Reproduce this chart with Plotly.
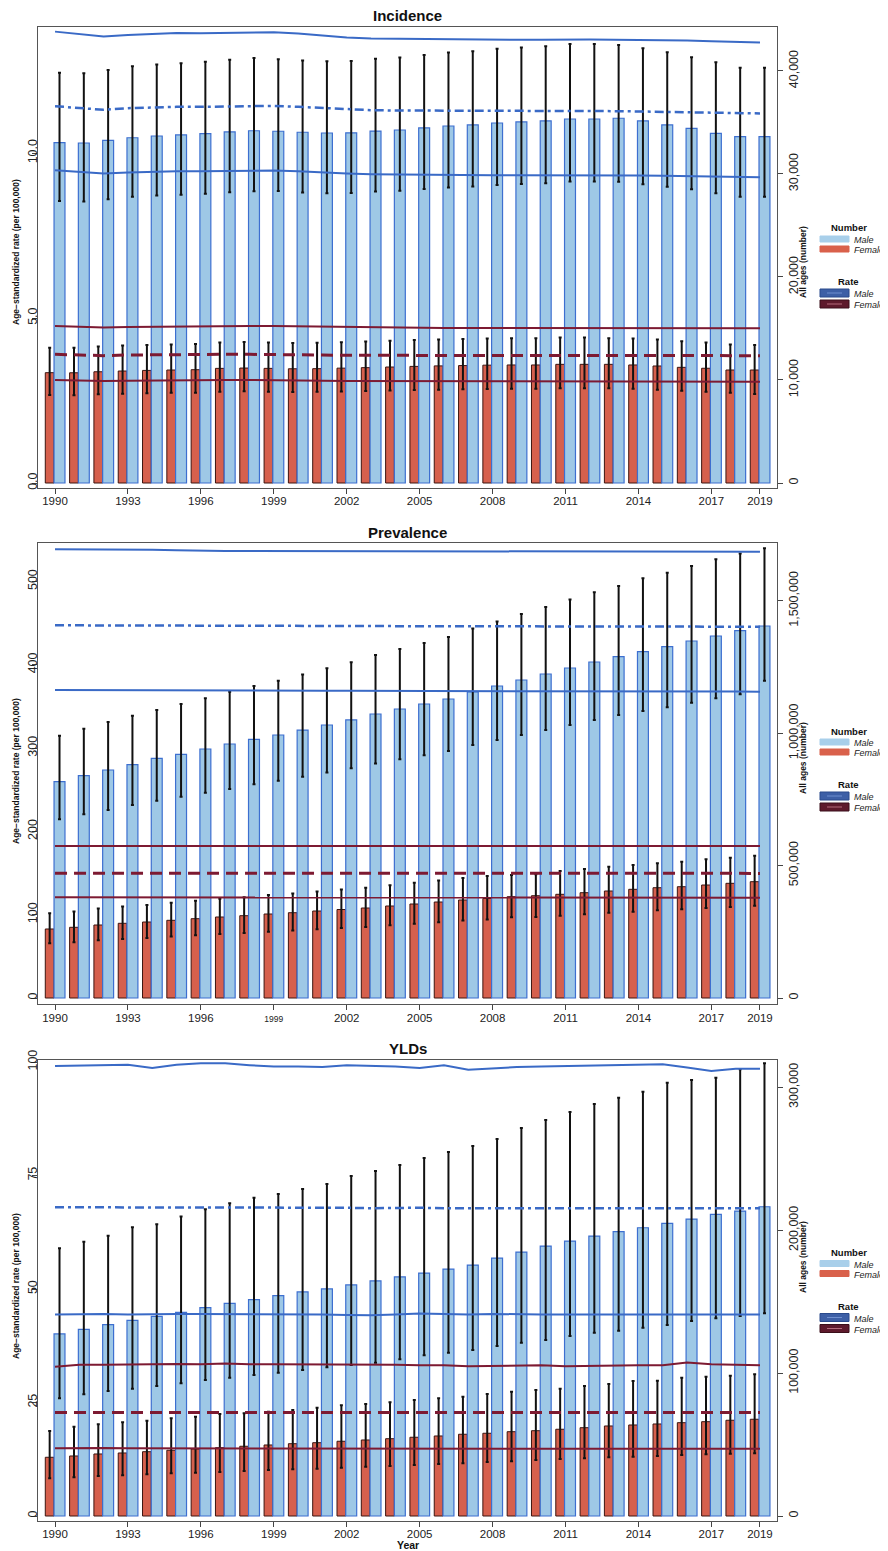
import plotly.graph_objects as go

years = list(range(1990, 2020))

# ---------------- Incidence ----------------
inc_m_num = [33040, 33010, 33270, 33520, 33690, 33790, 33910, 34080, 34200, 34150, 34050, 33980, 34000, 34170, 34270,
             34470, 34660, 34760, 34950, 35050, 35150, 35340, 35340, 35410, 35150, 34760, 34430, 33950, 33620, 33620]
inc_m_hi = [39830, 39780, 40090, 40450, 40620, 40760, 40900, 41090, 41250, 41130, 41010, 40950, 40980, 41190, 41320,
            41560, 41800, 41920, 42150, 42270, 42390, 42620, 42620, 42520, 42200, 41810, 41330, 40840, 40320, 40320]
inc_m_lo = [27380, 27330, 27550, 27780, 27900, 27980, 28080, 28220, 28320, 28350, 28200, 28140, 28160, 28290, 28380,
            28540, 28700, 28780, 28940, 29020, 29100, 29260, 29260, 29250, 29000, 28770, 28510, 28120, 27800, 27800]
inc_f_num = [10710, 10700, 10800, 10870, 10930, 10970, 11000, 11130, 11160, 11130, 11090, 11100, 11150, 11200, 11260,
             11320, 11370, 11400, 11440, 11460, 11460, 11520, 11520, 11520, 11460, 11360, 11230, 11140, 10970, 10970]
inc_f_hi = [13140, 13120, 13250, 13340, 13400, 13450, 13490, 13650, 13690, 13650, 13600, 13610, 13670, 13740, 13810,
            13880, 13940, 13980, 14030, 14050, 14050, 14120, 14120, 14050, 14030, 13920, 13760, 13640, 13440, 13400]
inc_f_lo = [8540, 8530, 8610, 8670, 8710, 8750, 8770, 8870, 8900, 8870, 8840, 8850, 8890, 8930, 8980,
            9020, 9060, 9090, 9120, 9140, 9140, 9190, 9190, 9190, 9140, 9060, 8950, 8870, 8750, 8640]
inc_rm_up = [13.68, 13.60, 13.53, 13.58, 13.62, 13.64, 13.63, 13.64, 13.66, 13.66, 13.62, 13.56, 13.50, 13.47, 13.46,
             13.46, 13.45, 13.44, 13.43, 13.43, 13.43, 13.44, 13.44, 13.43, 13.43, 13.43, 13.41, 13.39, 13.37, 13.35]
inc_rm_mid = [11.42, 11.36, 11.31, 11.36, 11.39, 11.40, 11.40, 11.41, 11.43, 11.43, 11.40, 11.36, 11.33, 11.30, 11.29,
              11.29, 11.28, 11.27, 11.27, 11.27, 11.27, 11.28, 11.28, 11.27, 11.26, 11.25, 11.24, 11.23, 11.21, 11.20]
inc_rm_lo = [9.48, 9.42, 9.38, 9.41, 9.44, 9.45, 9.45, 9.46, 9.47, 9.47, 9.45, 9.41, 9.38, 9.36, 9.35,
             9.34, 9.34, 9.33, 9.33, 9.33, 9.33, 9.34, 9.34, 9.33, 9.32, 9.31, 9.30, 9.29, 9.28, 9.27]
inc_rf_up = [4.76, 4.73, 4.71, 4.73, 4.74, 4.75, 4.75, 4.75, 4.76, 4.76, 4.75, 4.73, 4.72, 4.71, 4.71,
             4.71, 4.70, 4.70, 4.70, 4.70, 4.70, 4.71, 4.71, 4.70, 4.70, 4.70, 4.70, 4.69, 4.69, 4.69]
inc_rf_mid = [3.90, 3.88, 3.86, 3.88, 3.89, 3.89, 3.89, 3.90, 3.90, 3.90, 3.89, 3.88, 3.87, 3.87, 3.87,
              3.87, 3.87, 3.87, 3.87, 3.87, 3.87, 3.87, 3.87, 3.87, 3.87, 3.87, 3.86, 3.86, 3.86, 3.86]
inc_rf_lo = [3.12, 3.10, 3.09, 3.10, 3.11, 3.11, 3.11, 3.12, 3.12, 3.12, 3.11, 3.10, 3.09, 3.09, 3.09,
             3.09, 3.09, 3.08, 3.08, 3.08, 3.08, 3.09, 3.09, 3.08, 3.08, 3.08, 3.08, 3.07, 3.07, 3.07]

# ---------------- Prevalence ----------------
prev_m_num = [816800, 839500, 861000, 881000, 905200, 920300, 940300, 959200, 977000, 993200, 1012000, 1031000, 1050000,
              1072500, 1091400, 1110300, 1129200, 1155600, 1178200, 1200900, 1223600, 1246200, 1268900, 1288900,
              1307800, 1326700, 1348200, 1367100, 1387100, 1404800]
prev_m_hi = [990600, 1017000, 1042300, 1066100, 1087600, 1110300, 1131800, 1156700, 1178200, 1198300, 1222000, 1245000,
             1268000, 1295000, 1318000, 1341000, 1363000, 1395000, 1422000, 1450000, 1477000, 1505000, 1532000, 1555900,
             1585000, 1606000, 1631000, 1657000, 1679000, 1698200]
prev_m_lo = [674800, 693700, 709900, 728800, 745100, 760200, 775300, 789300, 807000, 820600, 836000, 852000, 868000,
             886000, 902000, 917000, 933000, 955000, 974000, 993000, 1012000, 1031000, 1050000, 1068700, 1083800,
             1097800, 1115200, 1131800, 1146900, 1198300]
prev_f_num = [260600, 267000, 275700, 282100, 287000, 293400, 299500, 305900, 310800, 317200, 322100, 328500, 334200,
              339900, 347400, 355000, 362500, 370100, 375800, 382600, 386300, 391600, 397700, 404100, 410500, 416500,
              420300, 426700, 433100, 439200]
prev_f_hi = [319900, 327000, 337700, 345600, 351600, 359400, 366900, 374700, 380700, 388600, 394600, 402400, 409400,
             416400, 425600, 434900, 444100, 453400, 460400, 464500, 467000, 479600, 487200, 495800, 502300, 508700,
             514700, 523800, 529800, 537400]
prev_f_lo = [206600, 211000, 217800, 222900, 226700, 231800, 236600, 241700, 245500, 250600, 254500, 259500, 264000,
             268500, 274400, 280500, 286400, 292400, 296900, 304700, 306000, 310500, 316000, 321500, 326000, 331000,
             335000, 339500, 344000, 348600]
prev_rm_up = [538.6, 538.6, 538.5, 538.4, 538.2, 537.6, 536.9, 536.6, 536.5, 536.5, 536.4, 536.4, 536.3, 536.3, 536.3,
              536.2, 536.2, 536.2, 536.1, 536.1, 536.1, 536.0, 536.0, 536.0, 536.0, 536.0, 535.9, 535.9, 535.8, 535.8]
prev_rm_mid = [447.4, 447.4, 447.3, 447.3, 447.2, 447.1, 446.9, 446.8, 446.7, 446.7, 446.6, 446.6, 446.5, 446.5, 446.4,
               446.4, 446.3, 446.3, 446.2, 446.2, 446.1, 446.1, 446.0, 446.0, 445.9, 445.9, 445.8, 445.8, 445.7, 445.7]
prev_rm_lo = [369.7, 369.7, 369.6, 369.5, 369.4, 369.3, 369.2, 369.1, 369.0, 368.9, 368.9, 368.8, 368.7, 368.7, 368.6,
              368.5, 368.5, 368.4, 368.4, 368.3, 368.3, 368.2, 368.1, 368.1, 368.0, 368.0, 367.9, 367.9, 367.8, 367.7]
prev_rf_up = [182.6, 182.6, 182.6, 182.6, 182.5, 182.5, 182.5, 182.5, 182.5, 182.5, 182.5, 182.5, 182.5, 182.5, 182.5,
              182.5, 182.5, 182.5, 182.5, 182.5, 182.5, 182.4, 182.4, 182.4, 182.4, 182.4, 182.4, 182.4, 182.4, 182.4]
prev_rf_mid = [149.8, 149.8, 149.8, 149.7, 149.7, 149.7, 149.7, 149.7, 149.7, 149.7, 149.7, 149.7, 149.7, 149.7, 149.7,
               149.7, 149.7, 149.7, 149.7, 149.7, 149.6, 149.6, 149.6, 149.6, 149.6, 149.6, 149.6, 149.6, 149.6, 149.6]
prev_rf_lo = [120.9, 120.9, 120.9, 120.8, 120.8, 120.8, 120.8, 120.7, 120.7, 120.7, 120.7, 120.7, 120.6, 120.6, 120.6,
              120.6, 120.6, 120.6, 120.5, 120.5, 120.5, 120.5, 120.5, 120.5, 120.4, 120.4, 120.4, 120.4, 120.4, 120.4]

# ---------------- YLDs ----------------
yld_m_num = [127400, 130600, 133900, 136900, 139700, 142500, 145800, 148800, 151400, 154200, 156800, 158900, 161700,
             164500, 167300, 170000, 172800, 175600, 180500, 184700, 188900, 192400, 195900, 199000, 201700, 204800,
             207800, 211100, 213400, 216400]
yld_m_hi = [187300, 192000, 196100, 202000, 204100, 209500, 214600, 218800, 222700, 225300, 228800, 232300, 237900,
            241400, 245600, 250500, 254700, 258900, 263800, 271500, 277100, 282700, 288300, 292700, 296900, 303200,
            305100, 306700, 312600, 316800]
yld_m_lo = [82400, 85200, 87500, 89100, 91000, 92900, 95200, 96800, 98700, 100300, 102200, 104100, 105700, 107300,
            109700, 112500, 114300, 116200, 119000, 121300, 123200, 126000, 128300, 129700, 131800, 133700, 136500,
            138300, 140000, 141800]
yld_f_num = [41100, 42000, 43400, 44100, 45000, 46000, 46900, 47800, 48800, 49700, 50600, 51300, 52300, 53200, 54100,
             55100, 56000, 57200, 57900, 59000, 59700, 60700, 61800, 63000, 63700, 64400, 65300, 66000, 67000, 67700]
yld_f_hi = [59500, 62500, 64200, 65600, 66700, 68400, 69500, 71400, 71900, 73000, 74200, 75800, 77500, 78400, 79600,
            81200, 82400, 83500, 85400, 87000, 88200, 89100, 91000, 92400, 94500, 94700, 96800, 97500, 98200, 99200]
yld_f_lo = [26400, 27100, 28000, 28500, 29200, 29900, 30300, 30800, 31500, 32200, 32700, 33100, 33800, 34500, 35000,
            35700, 36400, 36900, 37800, 38300, 39200, 39900, 40400, 41100, 41500, 42000, 42700, 43200, 43600, 43900]
yld_rm_up = [99.1, 99.2, 99.3, 99.4, 98.7, 99.4, 99.7, 99.7, 99.3, 99.0, 99.0, 98.9, 99.3, 99.2, 99.0,
             98.7, 99.3, 98.3, 98.6, 98.9, 99.0, 99.1, 99.2, 99.3, 99.3, 99.5, 98.8, 98.0, 98.5, 98.5]
yld_rm_mid = [68.0, 68.0, 68.0, 67.9, 68.0, 67.9, 67.9, 68.0, 67.9, 67.9, 67.9, 67.9, 67.9, 67.8, 67.9,
              67.9, 67.8, 67.8, 67.9, 67.8, 67.8, 67.8, 67.8, 67.8, 67.8, 67.8, 67.8, 67.8, 67.8, 67.8]
yld_rm_lo = [44.4, 44.5, 44.5, 44.4, 44.5, 44.5, 44.5, 44.5, 44.4, 44.5, 44.5, 44.4, 44.3, 44.2, 44.4,
             44.6, 44.5, 44.4, 44.5, 44.4, 44.4, 44.4, 44.4, 44.4, 44.4, 44.4, 44.5, 44.4, 44.4, 44.4]
yld_rf_up = [32.9, 33.3, 33.3, 33.3, 33.4, 33.5, 33.4, 33.6, 33.4, 33.4, 33.4, 33.4, 33.4, 33.3, 33.3,
             33.2, 33.2, 33.0, 33.1, 33.2, 33.2, 33.0, 33.1, 33.2, 33.2, 33.2, 33.8, 33.4, 33.3, 33.2]
yld_rf_mid = [22.8, 22.8, 22.8, 22.8, 22.8, 22.8, 22.8, 22.8, 22.8, 22.8, 22.8, 22.8, 22.8, 22.8, 22.8,
              22.8, 22.8, 22.8, 22.8, 22.8, 22.8, 22.8, 22.8, 22.8, 22.8, 22.8, 22.8, 22.8, 22.8, 22.8]
yld_rf_lo = [14.9, 15.0, 15.0, 14.9, 14.9, 14.9, 14.9, 14.9, 14.9, 14.9, 14.9, 14.9, 14.9, 14.9, 14.9,
             14.9, 14.9, 14.9, 14.9, 14.9, 14.9, 14.8, 14.8, 14.8, 14.8, 14.8, 14.8, 14.8, 14.8, 14.8]

x_tickvals = [1990, 1993, 1996, 1999, 2002, 2005, 2008, 2011, 2014, 2017, 2019]

# ---------------- geometry / style ----------------
W, H = 888, 1551
OX, OY = 8, 8            # page offset of the plot div (body margin)
PL, PR = 38, 777         # plot area left/right in screen px
ML = PL - OX
MR = W - (PR - OX)
PW = W - ML - MR
FONT = "Liberation Sans"


def fx(px):
    return (px - OX - ML) / PW


def fy(py):
    return 1 - (py - OY) / H


M_FILL, M_EDGE = "#9ec8e6", "#3d6fd0"
F_FILL, F_EDGE = "#d6604d", "#3d1510"
M_LINE, F_LINE = "#3a6ac6", "#7d1a32"

panels = [
    dict(title="Incidence", ttl_y=15, top=27, bot=487.5,
         m=(inc_m_num, inc_m_lo, inc_m_hi), f=(inc_f_num, inc_f_lo, inc_f_hi),
         rm=(inc_rm_up, inc_rm_mid, inc_rm_lo), rf=(inc_rf_up, inc_rf_mid, inc_rf_lo),
         lrange=[-0.136, 13.82], ltv=[0, 5, 10], ltt=["0.0", "5.0", "10.0"],
         rrange=[-437, 44270], rtv=[0, 10000, 20000, 30000, 40000],
         lt_y=252, rt_y=262, leg_y=228, ytxt=None),
    dict(title="Prevalence", ttl_y=532, top=543, bot=1004,
         m=(prev_m_num, prev_m_lo, prev_m_hi), f=(prev_f_num, prev_f_lo, prev_f_hi),
         rm=(prev_rm_up, prev_rm_mid, prev_rm_lo), rf=(prev_rf_up, prev_rf_mid, prev_rf_lo),
         lrange=[-7.2, 546.2], ltv=[0, 100, 200, 300, 400, 500], ltt=None,
         rrange=[-22660, 1718300], rtv=[0, 500000, 1000000, 1500000],
         lt_y=771, rt_y=758, leg_y=731, ytxt=None),
    dict(title="YLDs", ttl_y=1048, top=1060, bot=1520.5,
         m=(yld_m_num, yld_m_lo, yld_m_hi), f=(yld_f_num, yld_f_lo, yld_f_hi),
         rm=(yld_rm_up, yld_rm_mid, yld_rm_lo), rf=(yld_rf_up, yld_rf_mid, yld_rf_lo),
         lrange=[-0.99, 100.44], ltv=[0, 25, 50, 75, 100], ltt=None,
         rrange=[-3150, 319100], rtv=[0, 100000, 200000, 300000],
         lt_y=1286, rt_y=1257, leg_y=1252.5, ytxt="Year"),
]

fig = go.Figure()
layout = dict(
    width=W, height=H, plot_bgcolor="white", paper_bgcolor="white",
    margin=dict(l=ML, r=MR, t=0, b=0, autoexpand=False), showlegend=False, barmode="overlay",
    font=dict(family=FONT, color="#222", size=12),
)
annotations = []
shapes = []

for i, p in enumerate(panels):
    xa = "x" if i == 0 else f"x{i + 1}"
    yb_n = 2 * i + 1
    yl_n = 2 * i + 2
    yb = "y" if yb_n == 1 else f"y{yb_n}"
    yl = f"y{yl_n}"

    fnum, flo, fhi = p["f"]
    mnum, mlo, mhi = p["m"]
    fig.add_trace(go.Bar(
        x=years, y=fnum, offset=-0.40, width=0.36, xaxis=xa, yaxis=yb,
        marker=dict(color=F_FILL, line=dict(color=F_EDGE, width=1)),
        error_y=dict(type="data", symmetric=False,
                     array=[h - n for h, n in zip(fhi, fnum)],
                     arrayminus=[n - l for n, l in zip(fnum, flo)],
                     color="#111", thickness=2, width=1.5),
        name="Female"))
    fig.add_trace(go.Bar(
        x=years, y=mnum, offset=-0.04, width=0.45, xaxis=xa, yaxis=yb,
        marker=dict(color=M_FILL, line=dict(color=M_EDGE, width=1.2)),
        error_y=dict(type="data", symmetric=False,
                     array=[h - n for h, n in zip(mhi, mnum)],
                     arrayminus=[n - l for n, l in zip(mnum, mlo)],
                     color="#111", thickness=2, width=1.5),
        name="Male"))
    up, mid, lo = p["rm"]
    fig.add_trace(go.Scatter(x=years, y=up, mode="lines", xaxis=xa, yaxis=yl,
                             line=dict(color=M_LINE, width=2), name="Male upper"))
    fig.add_trace(go.Scatter(x=years, y=mid, mode="lines", xaxis=xa, yaxis=yl,
                             line=dict(color=M_LINE, width=2.5, dash="9px,4px,3px,4px"), name="Male rate"))
    fig.add_trace(go.Scatter(x=years, y=lo, mode="lines", xaxis=xa, yaxis=yl,
                             line=dict(color=M_LINE, width=2), name="Male lower"))
    up, mid, lo = p["rf"]
    fig.add_trace(go.Scatter(x=years, y=up, mode="lines", xaxis=xa, yaxis=yl,
                             line=dict(color=F_LINE, width=2), name="Female upper"))
    fig.add_trace(go.Scatter(x=years, y=mid, mode="lines", xaxis=xa, yaxis=yl,
                             line=dict(color=F_LINE, width=3, dash="12px,7px"), name="Female rate"))
    fig.add_trace(go.Scatter(x=years, y=lo, mode="lines", xaxis=xa, yaxis=yl,
                             line=dict(color=F_LINE, width=2), name="Female lower"))

    dom = [fy(p["bot"]), fy(p["top"])]
    if i == 1:
        xtt = [str(v) if v != 1999 else '<span style="font-size:8.5px">1999</span>' for v in x_tickvals]
    else:
        xtt = [str(v) for v in x_tickvals]
    axis_common = dict(showgrid=False, zeroline=False, showline=True, linecolor="#555", linewidth=1,
                       ticks="outside", ticklen=5, tickcolor="#444", tickwidth=1)
    layout["xaxis" if i == 0 else f"xaxis{i + 1}"] = dict(
        domain=[0, 1], anchor=yb, range=[1989.30, 2019.70], tickmode="array",
        tickvals=x_tickvals, ticktext=xtt, mirror=True, ticklabelstandoff=-2,
        tickfont=dict(size=11.5, family=FONT, color="#222"), **axis_common)
    rtt = [f"{v:,}" for v in p["rtv"]]
    layout["yaxis" if yb_n == 1 else f"yaxis{yb_n}"] = dict(
        domain=dom, anchor=xa, side="right", range=p["rrange"], tickmode="array",
        tickvals=p["rtv"], ticktext=rtt, tickangle=-90, mirror=True,
        tickfont=dict(size=12.5, family=FONT, color="#222"), **axis_common)
    ltt = p["ltt"] if p["ltt"] else [str(v) for v in p["ltv"]]
    layout[f"yaxis{yl_n}"] = dict(
        overlaying=yb, anchor=xa, side="left", range=p["lrange"], tickmode="array",
        tickvals=p["ltv"], ticktext=ltt, tickangle=-90, ticklabelstandoff=-10,
        tickfont=dict(size=12.5, family=FONT, color="#222"), **axis_common)

    annotations.append(dict(text=f"<b>{p['title']}</b>", x=fx(407.5), y=fy(p["ttl_y"]), xref="paper", yref="paper",
                            showarrow=False, font=dict(size=15, family=FONT, color="#111"),
                            xanchor="center", yanchor="middle"))
    annotations.append(dict(text="<b>Age−standardized rate (per 100,000)</b>", x=fx(16), y=fy(p["lt_y"]),
                            xref="paper", yref="paper", showarrow=False, textangle=-90,
                            font=dict(size=8.5, family=FONT, color="#111"), xanchor="center", yanchor="middle"))
    annotations.append(dict(text="<b>All ages (number)</b>", x=fx(803), y=fy(p["rt_y"]),
                            xref="paper", yref="paper", showarrow=False, textangle=-90,
                            font=dict(size=8.5, family=FONT, color="#111"), xanchor="center", yanchor="middle"))
    if p["ytxt"]:
        annotations.append(dict(text="<b>Year</b>", x=fx(407.5), y=fy(1545), xref="paper", yref="paper",
                                showarrow=False, font=dict(size=10.5, family=FONT, color="#111"),
                                xanchor="center", yanchor="middle"))

    N = p["leg_y"]
    annotations.append(dict(text="<b>Number</b>", x=fx(849), y=fy(N), xref="paper", yref="paper", showarrow=False,
                            font=dict(size=9.5, family=FONT, color="#111"), xanchor="center", yanchor="middle"))
    annotations.append(dict(text="<b>Rate</b>", x=fx(848), y=fy(N + 53.5), xref="paper", yref="paper",
                            showarrow=False, font=dict(size=9.5, family=FONT, color="#111"),
                            xanchor="center", yanchor="middle"))
    items = [
        (N + 8, N + 14, "#a8cfea", "#a8cfea", None, "Male"),
        (N + 18, N + 24, "#d9614b", "#d9614b", None, "Female"),
        (N + 61, N + 69, "#3d5fa6", "#2a4a8c", "#6f8fcf", "Male"),
        (N + 72, N + 80, "#5e1a2c", "#3a0f1a", "#b46a7a", "Female"),
    ]
    for (y0, y1, fill, edge, mid_c, lab) in items:
        shapes.append(dict(type="rect", xref="paper", yref="paper", x0=fx(820), x1=fx(849), y0=fy(y1), y1=fy(y0),
                           fillcolor=fill, line=dict(color=edge, width=1), layer="above"))
        if mid_c:
            shapes.append(dict(type="line", xref="paper", yref="paper", x0=fx(827), x1=fx(842),
                               y0=fy((y0 + y1) / 2), y1=fy((y0 + y1) / 2), line=dict(color=mid_c, width=1),
                               layer="above"))
        annotations.append(dict(text=f"<i>{lab}</i>", x=fx(852), y=fy((y0 + y1) / 2 + 1), xref="paper",
                                yref="paper", showarrow=False, font=dict(size=9, family=FONT, color="#222"),
                                xanchor="left", yanchor="middle"))

layout["annotations"] = annotations
layout["shapes"] = shapes
fig.update_layout(**layout)
fig.write_html("out.html")
